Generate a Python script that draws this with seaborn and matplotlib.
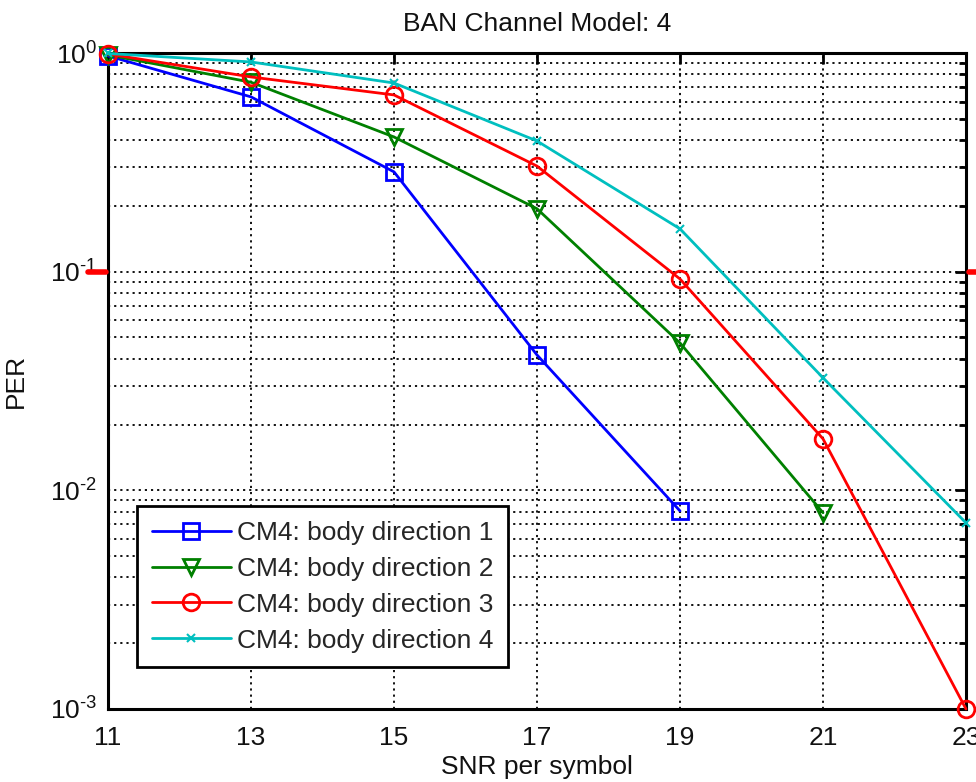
import numpy as np
import pandas as pd
import matplotlib
matplotlib.use("Agg")
import matplotlib.pyplot as plt
import seaborn as sns
from matplotlib.ticker import LogLocator, NullFormatter, FixedLocator, FixedFormatter

snr = [11, 13, 15, 17, 19, 21, 23]
dir1 = [0.97, 0.63, 0.286, 0.0416, 0.00805]
dir2 = [0.98, 0.735, 0.413, 0.194, 0.0472, 0.0079]
dir3 = [0.99, 0.777, 0.643, 0.304, 0.0926, 0.0172, 0.001]
dir4 = [0.995, 0.91, 0.729, 0.396, 0.157, 0.0327, 0.0071]
labels = ["CM4: body direction 1", "CM4: body direction 2",
          "CM4: body direction 3", "CM4: body direction 4"]
yticks = [1e-3, 1e-2, 1e-1, 1e0]
yticklabels = [r"$10^{\text{-}3}$", r"$10^{\text{-}2}$", r"$10^{\text{-}1}$", r"$10^{0}$"]
title = "BAN Channel Model: 4"
xlabel = "SNR per symbol"
ylabel = "PER"

sns.set_theme(style="white")
plt.rcParams['font.family'] = ['Liberation Sans', 'DejaVu Sans']
plt.rcParams['mathtext.fontset'] = 'custom'
plt.rcParams['mathtext.rm'] = 'Liberation Sans'
plt.rcParams['mathtext.it'] = 'Liberation Sans'
plt.rcParams['mathtext.default'] = 'regular'

FS = 19
fig = plt.figure(figsize=(9.76, 7.82), dpi=100)
ax = fig.add_axes([108/976, 1-709/782, (966-108)/976, (709-53)/782])

series = [dir1, dir2, dir3, dir4]
colors = ["#0000ff", "#008000", "#ff0000", "#00bfbf"]
markers = ["s", "v", "o", "x"]
msizes = [12, 12, 12, 6]
for vals, lab, c, m, ms in zip(series, labels, colors, markers, msizes):
    df = pd.DataFrame({"snr": snr[:len(vals)], "per": vals})
    sns.lineplot(data=df, x="snr", y="per", ax=ax, color=c, marker=m,
                 markersize=ms, markerfacecolor="none", markeredgecolor=c,
                 markeredgewidth=2 if m != "x" else 1.5, linewidth=2,
                 label=lab, clip_on=False, zorder=3)

ax.set_yscale("log")
ax.set_xlim(11, 23)
ax.set_ylim(1e-3, 1)
ax.set_xticks(snr)
ax.set_xticklabels([str(s) for s in snr])
ax.yaxis.set_major_locator(FixedLocator(yticks))
ax.yaxis.set_major_formatter(FixedFormatter(yticklabels))
ax.yaxis.set_minor_locator(LogLocator(base=10, subs=np.arange(2, 10), numticks=20))
ax.yaxis.set_minor_formatter(NullFormatter())

ax.grid(True, which="major", axis="both", color="black", linestyle=(0, (1.2, 2.2)), linewidth=1.3)
ax.grid(True, which="minor", axis="y", color="black", linestyle=(0, (1.2, 2.2)), linewidth=1.3)
ax.set_axisbelow(True)

for s in ax.spines.values():
    s.set_color("black")
    s.set_linewidth(2.2)
ax.tick_params(which="both", direction="in", top=True, right=True,
               colors="black", labelsize=FS, width=2)
ax.tick_params(axis="both", labelcolor="#111111")
ax.tick_params(which="major", length=8)
ax.tick_params(which="minor", length=5)
ax.tick_params(axis="x", pad=12)
ax.tick_params(axis="y", pad=8)

ax.set_title(title, fontsize=FS, color="#111111", pad=16)
ax.set_xlabel(xlabel, fontsize=FS, color="#111111", labelpad=4)
ax.set_ylabel(ylabel, fontsize=FS, color="#111111")
ax.yaxis.set_label_coords(-0.093, 0.5)

# red marks at 10^-1 on both sides
ax.plot([-0.023, -0.002], [0.1, 0.1], color="red", linewidth=4,
        transform=ax.get_yaxis_transform(), clip_on=False, zorder=5)
ax.plot([1.003, 1.012], [0.1, 0.1], color="red", linewidth=4,
        transform=ax.get_yaxis_transform(), clip_on=False, zorder=5)

leg = ax.legend(loc="lower left", bbox_to_anchor=(0.034, 0.064), fontsize=FS,
                frameon=True, fancybox=False, edgecolor="black", framealpha=1,
                handlelength=3.0, borderpad=0.55, labelspacing=0.45,
                handletextpad=0.25, borderaxespad=0)
leg.get_frame().set_linewidth(2)

fig.savefig("out.png", dpi=100)
